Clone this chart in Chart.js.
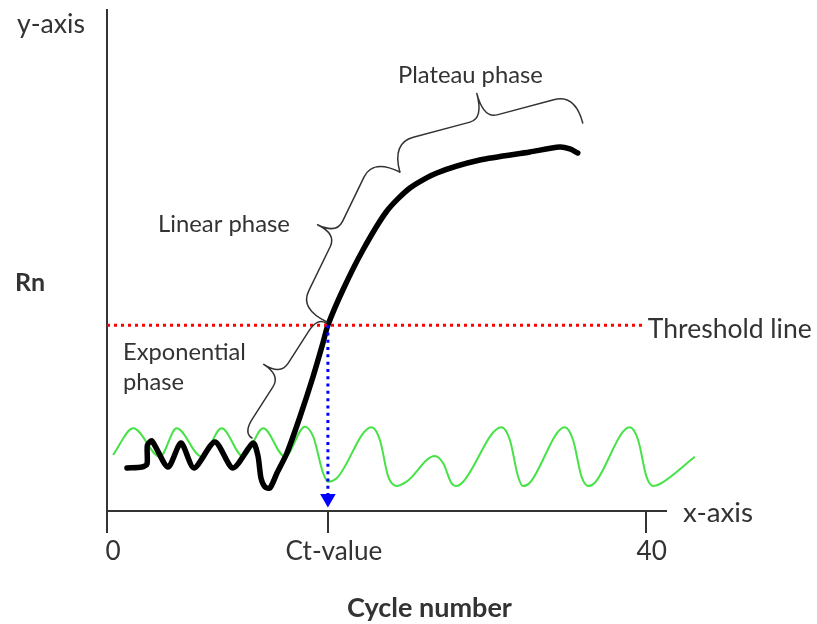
<!DOCTYPE html>
<html>
<head>
<meta charset="utf-8">
<script src="https://cdn.jsdelivr.net/npm/chart.js@4.4.0/dist/chart.umd.min.js"></script>
<style>
html,body{margin:0;padding:0;background:#fff;}
#wrap{width:817px;height:624px;position:relative;}
</style>
</head>
<body>
<div id="wrap"><canvas id="c"></canvas></div>
<script>
// ---- data ----
const ctValue = 16.4;
const thresholdValue = 37.1;
const xTickValues = [0, ctValue, 40];
const xTickLabels = ['0', 'Ct-value', '40'];

const sampleX = [1.48, 2.60, 2.97, 3.00, 3.34, 4.53, 5.49, 6.46, 8.01, 9.35, 10.84, 11.21, 11.43, 11.73, 12.10, 12.62, 13.36, 14.32, 15.29, 16.03, 16.40, 17.51, 19.00, 20.78, 22.49, 24.49, 27.68, 31.39, 33.62, 34.36, 34.95];
const sampleY = [8.58, 8.78, 9.38, 13.17, 13.97, 8.78, 13.57, 8.58, 13.77, 8.58, 13.57, 10.98, 6.59, 4.79, 4.59, 7.58, 11.58, 18.76, 26.75, 33.53, 37.10, 44.11, 52.10, 59.88, 64.47, 67.47, 70.06, 71.66, 72.65, 72.26, 71.46];

const noiseX = [0.45, 1.95, 3.93, 5.17, 7.03, 8.51, 10.12, 11.60, 13.21, 14.69, 15.31, 16.05, 16.42, 17.05, 19.64, 20.26, 20.88, 21.50, 22.24, 24.34, 24.96, 25.58, 25.95, 26.44, 29.29, 29.91, 30.52, 30.89, 31.39, 33.99, 34.60, 35.23, 35.72, 36.22, 38.81, 39.43, 40.05, 40.54, 41.04, 43.64];
const noiseY = [11.18, 16.51, 10.84, 16.51, 10.84, 16.51, 10.84, 16.51, 10.84, 16.83, 14.83, 7.52, 5.85, 6.53, 16.71, 14.17, 6.85, 4.99, 5.85, 10.98, 9.52, 5.53, 4.99, 5.85, 16.71, 14.17, 6.85, 4.99, 5.65, 16.71, 14.17, 6.85, 4.99, 5.65, 16.71, 14.17, 6.85, 4.99, 5.39, 10.84];

const thresholdEndX = 39.9;
const ctArrowY = 2.5;

// ---- helpers ----
const FONT = 'Lato';
const TEXT = '#333';
const mctx = document.createElement('canvas').getContext('2d');
function fitSize(text, width, weight) {
  mctx.font = (weight || 'normal') + ' 100px ' + FONT;
  return 100 * width / mctx.measureText(text).width;
}
const tickSize = fitSize('Ct-value', 97);
const toPts = (xs, ys) => xs.map((x, i) => ({x: x, y: ys[i]}));

// annotations in data coordinates
const phaseNotes = [
  {text: 'Linear phase', x: 3.78, y: 55.69, width: 132},
  {text: 'Exponential', x: 1.19, y: 30.14, width: 123},
  {text: 'phase', x: 1.19, y: 24.15, like: 'Exponential', likeWidth: 123},
  {text: 'Plateau phase', x: 21.6, y: 85.43, width: 145},
  {text: 'Threshold line', x: 40.15, y: thresholdValue, dy: 13, width: 164}
];
const braces = [
  {a: [10.76, 14.57], b: [16.25, 37.52], w: 30, r: 10},
  {a: [16.33, 37.72], b: [21.74, 67.66], w: 51, r: 30},
  {a: [21.74, 67.66], b: [35.32, 77.45], w: 56, r: 30}
];

function drawBrace(ctx, A, B, w, r) {
  const dx = B.x - A.x, dy = B.y - A.y, L = Math.hypot(dx, dy);
  const u = {x: dx / L, y: dy / L}, n = {x: u.y, y: -u.x};
  const P = (s, t) => ({x: A.x + u.x * s + n.x * t, y: A.y + u.y * s + n.y * t});
  const h = Math.min(22, L * 0.12), k = 14;
  const seg = (s0, sgn) => {
    const p0 = P(s0, 0), c1 = P(s0, r), p1 = P(s0 + sgn * h, r);
    const p2 = P(L / 2 - sgn * k, r), c3 = P(L / 2, r), tip = P(L / 2, w);
    ctx.moveTo(p0.x, p0.y);
    ctx.quadraticCurveTo(c1.x, c1.y, p1.x, p1.y);
    ctx.lineTo(p2.x, p2.y);
    ctx.quadraticCurveTo(c3.x, c3.y, tip.x, tip.y);
  };
  ctx.beginPath();
  seg(0, 1);
  seg(L, -1);
  ctx.stroke();
}

const annotate = {
  id: 'annotate',
  afterDatasetsDraw(chart) {
    const ctx = chart.ctx, xs = chart.scales.x, ys = chart.scales.y, ca = chart.chartArea;
    ctx.save();
    ctx.strokeStyle = '#333';
    ctx.lineWidth = 1.5;
    ctx.lineJoin = 'round';
    ctx.lineCap = 'round';
    braces.forEach(b => {
      const A = {x: xs.getPixelForValue(b.a[0]), y: ys.getPixelForValue(b.a[1])};
      const B = {x: xs.getPixelForValue(b.b[0]), y: ys.getPixelForValue(b.b[1])};
      drawBrace(ctx, A, B, b.w, b.r);
    });
    ctx.fillStyle = TEXT;
    ctx.textBaseline = 'alphabetic';
    const put = (text, x, y, size, weight, align) => {
      ctx.font = (weight || 'normal') + ' ' + size.toFixed(2) + 'px ' + FONT;
      ctx.textAlign = align || 'left';
      ctx.fillText(text, x, y);
    };
    phaseNotes.forEach(nt => {
      const size = nt.like ? fitSize(nt.like, nt.likeWidth) : fitSize(nt.text, nt.width);
      put(nt.text, xs.getPixelForValue(nt.x), ys.getPixelForValue(nt.y) + (nt.dy || 0), size);
    });
    put('y-axis', ca.left - 90, ca.top + 23, fitSize('y-axis', 68));
    put('Rn', ca.left - 92, ca.top + 281, fitSize('Rn', 30, 'bold'), 'bold');
    put('x-axis', ca.right + 17, ca.bottom + 11, fitSize('x-axis', 70));
    put('Cycle number', (ca.left + ca.right) / 2 + 43, ca.bottom + 106, fitSize('Cycle number', 165, 'bold'), 'bold', 'center');
    ctx.restore();
  }
};

new Chart(document.getElementById('c'), {
  type: 'line',
  data: {
    datasets: [
      {
        label: 'Ct',
        data: [{x: ctValue, y: thresholdValue}, {x: ctValue, y: ctArrowY}],
        borderColor: '#0000ff',
        backgroundColor: '#0000ff',
        borderWidth: 3,
        borderDash: [3, 4.3],
        pointRadius: [0, 9],
        pointStyle: 'triangle',
        rotation: 180,
        pointBorderWidth: 0,
        order: 1
      },
      {
        label: 'Threshold',
        data: [{x: 0, y: thresholdValue}, {x: thresholdEndX, y: thresholdValue}],
        borderColor: '#ff0000',
        borderWidth: 3,
        borderDash: [3, 4],
        pointRadius: 0,
        order: 2
      },
      {
        label: 'Sample',
        data: toPts(sampleX, sampleY),
        borderColor: '#000',
        borderWidth: 5.5,
        tension: 0.25,
        pointRadius: 0,
        borderCapStyle: 'round',
        borderJoinStyle: 'round',
        order: 3
      },
      {
        label: 'Background',
        data: toPts(noiseX, noiseY),
        borderColor: '#47e247',
        borderWidth: 2,
        cubicInterpolationMode: 'monotone',
        pointRadius: 0,
        clip: false,
        order: 4
      }
    ]
  },
  options: {
    responsive: true,
    maintainAspectRatio: false,
    animation: false,
    layout: {padding: {left: 107, right: 151, top: 10, bottom: 0}},
    plugins: {legend: {display: false}, tooltip: {enabled: false}},
    scales: {
      x: {
        type: 'linear',
        min: 0,
        max: 41.5,
        afterBuildTicks: s => { s.ticks = xTickValues.map(v => ({value: v})); },
        afterFit: s => { s.height = 113; },
        ticks: {
          callback: (v, i) => xTickLabels[i],
          color: TEXT,
          font: {family: FONT, size: tickSize},
          padding: 3,
          labelOffset: 6,
          maxRotation: 0,
          autoSkip: false
        },
        grid: {drawOnChartArea: false, drawTicks: true, tickLength: 22, color: '#333', lineWidth: 2},
        border: {display: true, color: '#333', width: 2}
      },
      y: {
        min: 0,
        max: 100,
        afterFit: s => { s.width = 0; },
        ticks: {display: false},
        grid: {display: false},
        border: {display: true, color: '#333', width: 2}
      }
    }
  },
  plugins: [annotate]
});
</script>
</body>
</html>
